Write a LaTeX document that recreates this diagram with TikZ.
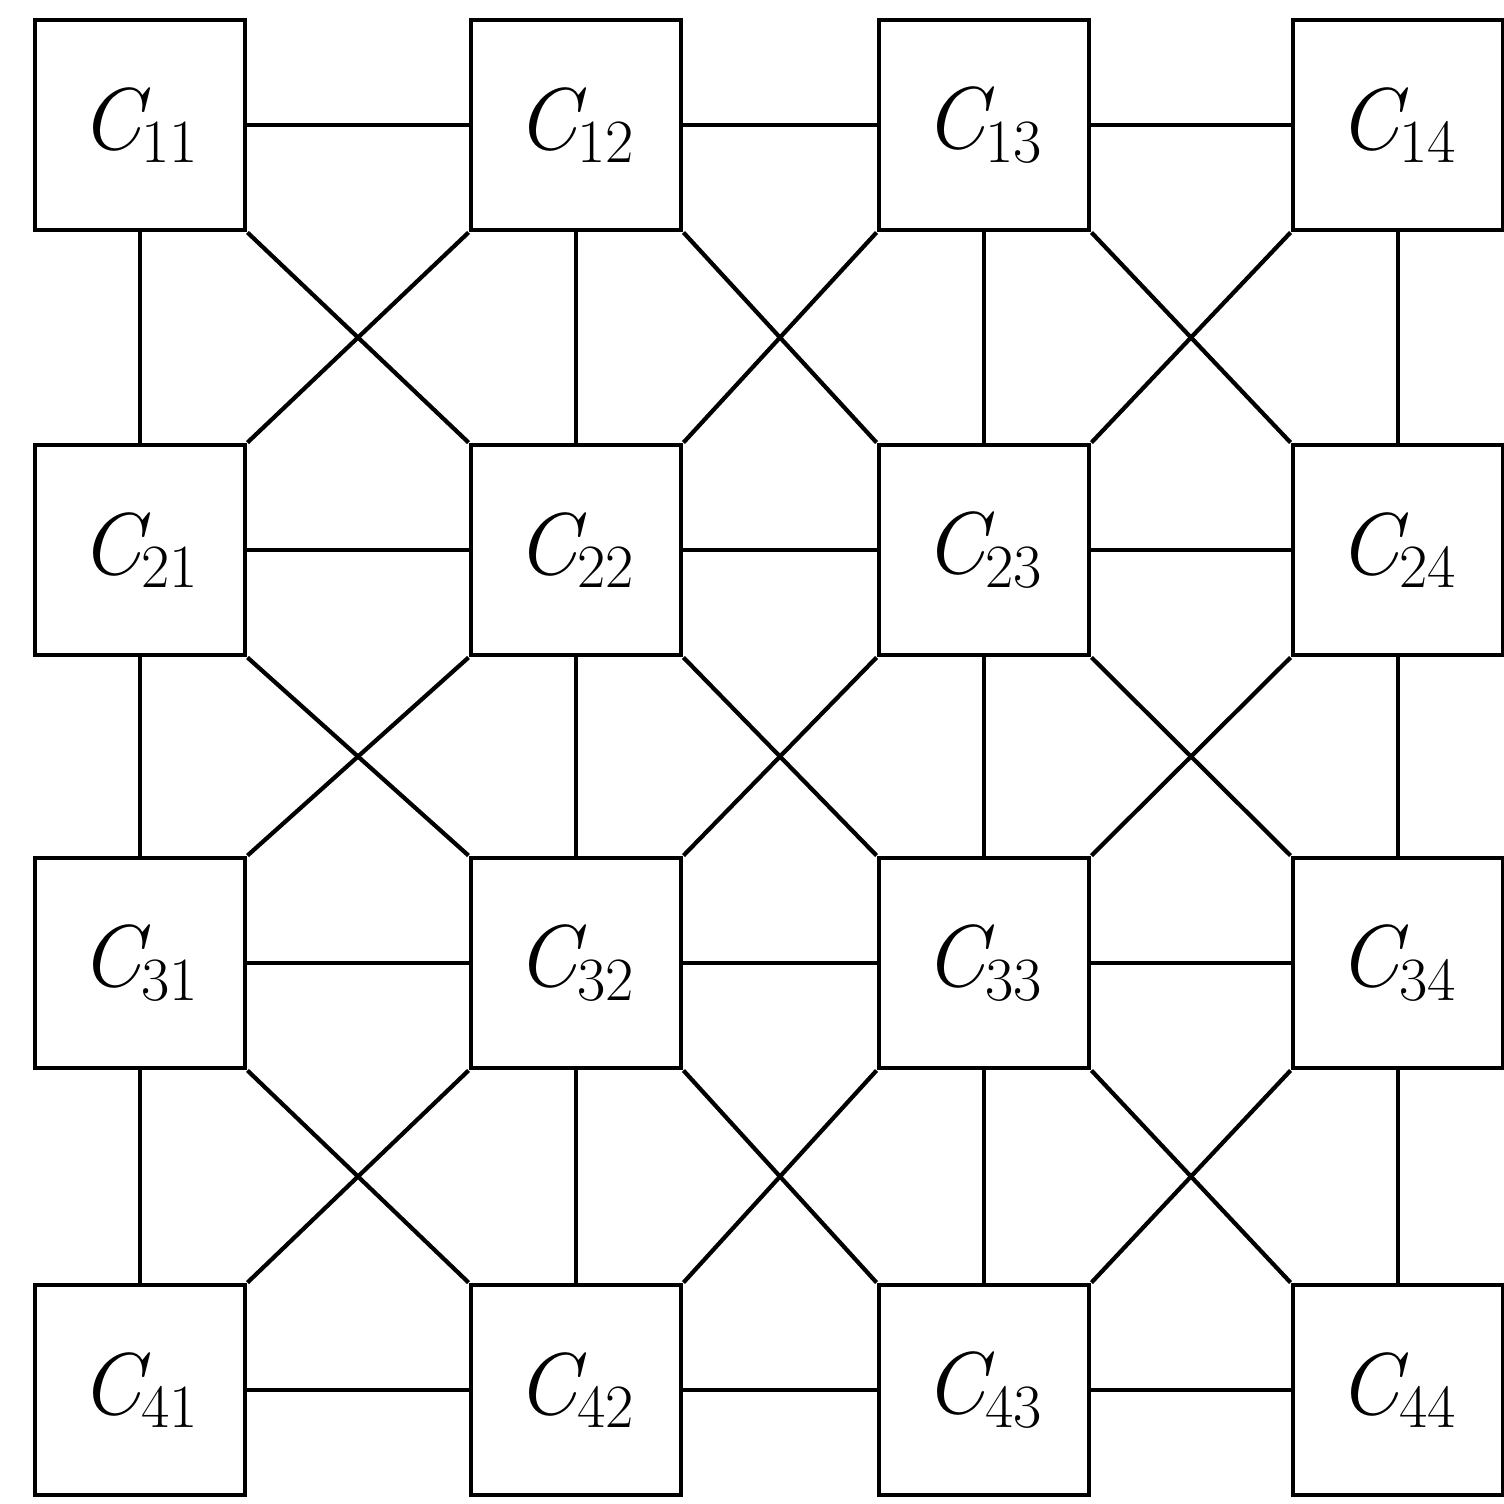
\documentclass[tikz,border=0pt]{standalone}
\usepackage{fontspec}
\usetikzlibrary{positioning}

\begin{document}
\begin{tikzpicture}[
    every node/.style={font=\fontsize{25}{27}\selectfont},
    cell/.style={draw, line width=1.4pt, minimum size=2.1cm, inner sep=0pt},
    link/.style={line width=1.2pt},
]

\useasboundingbox (0,0) rectangle (15.04,-15.03);

% ---------------------------------------------------------------- cells
% hand-drawn grid: column and row centres are not quite evenly spaced
\foreach \r/\y in {1/1.25, 2/5.50, 3/9.63, 4/13.90} {
    \foreach \c/\x in {1/1.40, 2/5.76, 3/9.84, 4/13.98} {
        \node[cell] (c\r\c) at (\x, -\y)
            {\itshape C\textsubscript{\upshape\r\c}};
    }
}

% ---------------------------------------------------------------- row links
\foreach \r in {1,...,4} {
    \foreach \c [evaluate=\c as \n using int(\c+1)] in {1,2,3} {
        \draw[link] (c\r\c.east) -- (c\r\n.west);
    }
}

% ---------------------------------------------------------------- column links
\foreach \r [evaluate=\r as \n using int(\r+1)] in {1,2,3} {
    \foreach \c in {1,...,4} {
        \draw[link] (c\r\c.south) -- (c\n\c.north);
    }
}

% ---------------------------------------------------------------- diagonals
\foreach \r [evaluate=\r as \n using int(\r+1)] in {1,2,3} {
    \foreach \c [evaluate=\c as \m using int(\c+1)] in {1,2,3} {
        \draw[link] (c\r\c.south east) -- (c\n\m.north west);
        \draw[link] (c\r\m.south west) -- (c\n\c.north east);
    }
}

\end{tikzpicture}
\end{document}
